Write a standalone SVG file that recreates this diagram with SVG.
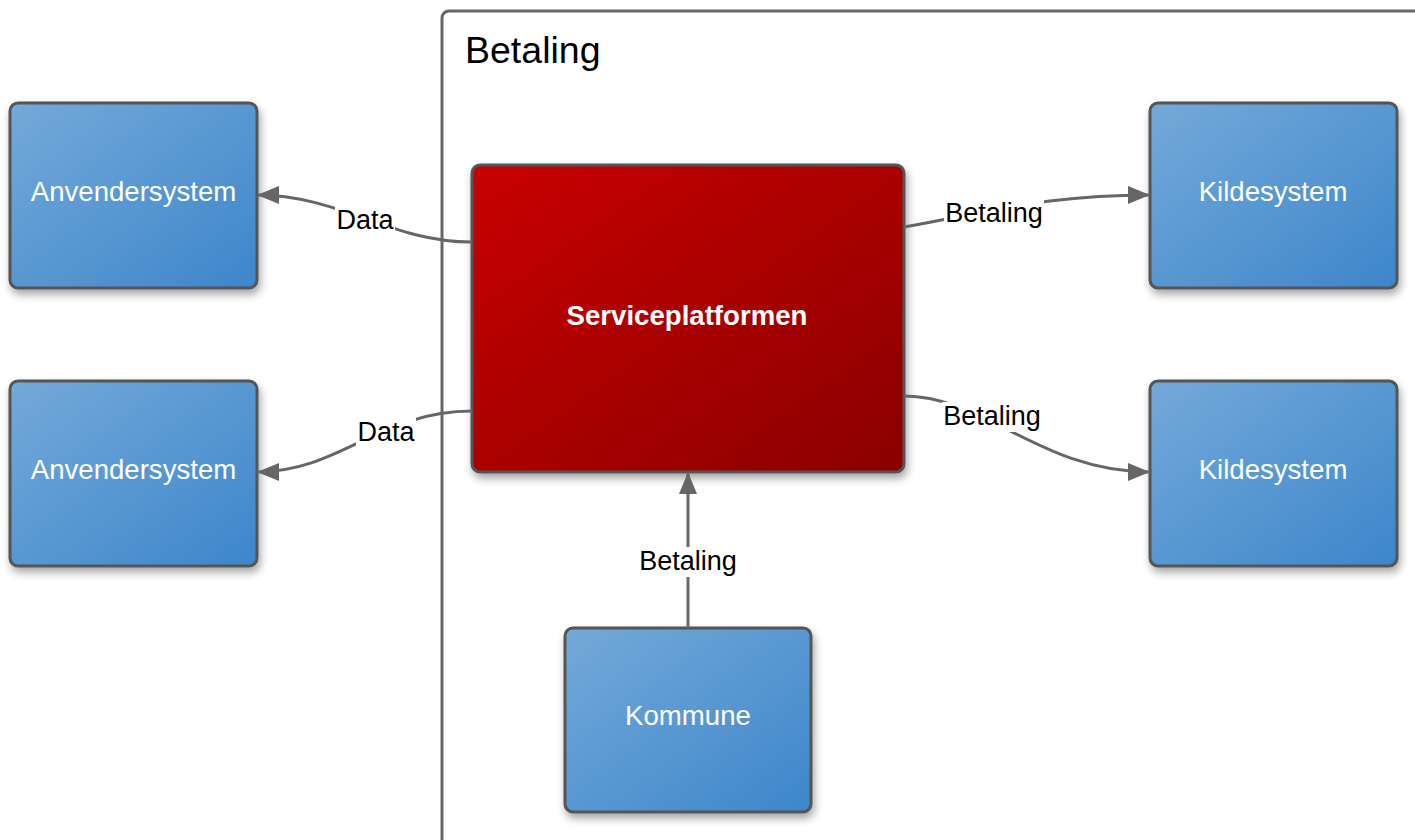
<svg xmlns="http://www.w3.org/2000/svg" width="1415" height="840" viewBox="0 0 1415 840">
<defs>
<linearGradient id="blue" x1="0" y1="0" x2="1" y2="1">
<stop offset="0" stop-color="#74a9d9"/>
<stop offset="1" stop-color="#3d86cb"/>
</linearGradient>
<linearGradient id="red" x1="0" y1="0" x2="1" y2="1">
<stop offset="0" stop-color="#c90000"/>
<stop offset="1" stop-color="#8a0000"/>
</linearGradient>
<filter id="sh" x="-10%" y="-10%" width="130%" height="130%">
<feDropShadow dx="2" dy="5" stdDeviation="4" flood-color="#000" flood-opacity="0.35"/>
</filter>
<marker id="arr" markerUnits="userSpaceOnUse" markerWidth="24" markerHeight="20" refX="22" refY="9" orient="auto">
<path d="M0,0 L22,9 L0,18 z" fill="#666"/>
</marker>
<style>
.node rect.b{fill:url(#blue);stroke:#555;stroke-width:3;filter:url(#sh)}
.nt{font-family:"Liberation Sans",Arial,sans-serif;font-size:27.6px;fill:#fff;text-anchor:middle}
.lbl{font-family:"Liberation Sans",Arial,sans-serif;font-size:27px;fill:#000;text-anchor:middle}
.con{fill:none;stroke:#666;stroke-width:3;marker-end:url(#arr)}
</style>
</defs>
<rect width="1415" height="840" fill="#fff"/>
<g id="container">
<rect x="442" y="11" width="1010" height="860" rx="7" fill="#fff" stroke="#666" stroke-width="3"/>
<text x="465" y="63" font-family="Liberation Sans, Arial, sans-serif" font-size="37.5" fill="#000">Betaling</text>
</g>
<g id="anvender1" class="node"><rect class="b" x="10" y="103" width="247" height="185" rx="8"/><text class="nt" x="133.5" y="201">Anvendersystem</text></g>
<g id="anvender2" class="node"><rect class="b" x="10" y="381" width="247" height="185" rx="8"/><text class="nt" x="133.5" y="479">Anvendersystem</text></g>
<g id="kilde1" class="node"><rect class="b" x="1150" y="103" width="247" height="185" rx="8"/><text class="nt" x="1273" y="201">Kildesystem</text></g>
<g id="kilde2" class="node"><rect class="b" x="1150" y="381" width="247" height="185" rx="8"/><text class="nt" x="1273" y="479">Kildesystem</text></g>
<g id="kommune" class="node"><rect class="b" x="565" y="628" width="246" height="184" rx="8"/><text class="nt" x="688" y="725">Kommune</text></g>
<g id="serviceplatformen" class="node"><rect x="472" y="165" width="432" height="307" rx="8" fill="url(#red)" stroke="#555" stroke-width="3" filter="url(#sh)"/><text class="nt" x="687" y="325" font-weight="bold">Serviceplatformen</text></g>
<g id="connectors">
<path class="con" d="M472,242 C390,242 340,195 257,195"/>
<path class="con" d="M472,411 C380,411 340,472 257,472"/>
<path class="con" d="M904,227 C1000,210 1050,195 1150,195"/>
<path class="con" d="M904,396 C985,396 1040,472 1150,472"/>
<path class="con" d="M688,628 L688,472"/>
<rect x="335" y="206" width="60" height="28" fill="#fff"/>
<text class="lbl" x="365" y="229">Data</text>
<rect x="356" y="418" width="60" height="28" fill="#fff"/>
<text class="lbl" x="386" y="441">Data</text>
<rect x="944" y="199" width="100" height="30" fill="#fff"/>
<text class="lbl" x="994" y="222">Betaling</text>
<rect x="942" y="402" width="100" height="30" fill="#fff"/>
<text class="lbl" x="992" y="425">Betaling</text>
<rect x="638" y="547" width="100" height="30" fill="#fff"/>
<text class="lbl" x="688" y="570">Betaling</text>
</g>
</svg>
